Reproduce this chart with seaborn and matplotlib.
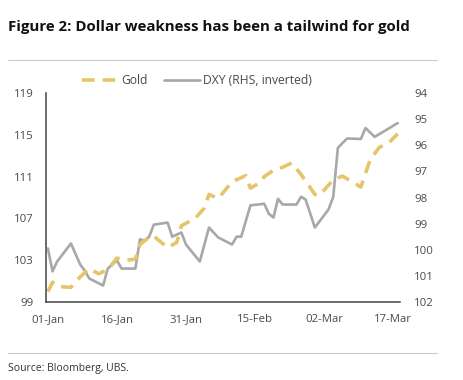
import matplotlib
matplotlib.use("Agg")
import matplotlib.pyplot as plt
import matplotlib.dates as mdates
import seaborn as sns
import pandas as pd
import numpy as np

# ---- data ----
gold_dates = ["2025-01-01", "2025-01-02", "2025-01-03", "2025-01-06", "2025-01-08",
              "2025-01-10", "2025-01-12", "2025-01-14", "2025-01-16", "2025-01-18",
              "2025-01-20", "2025-01-21", "2025-01-23", "2025-01-24", "2025-01-27",
              "2025-01-29", "2025-01-30", "2025-02-02", "2025-02-04", "2025-02-05",
              "2025-02-07", "2025-02-10", "2025-02-13", "2025-02-14", "2025-02-16",
              "2025-02-17", "2025-02-19", "2025-02-21", "2025-02-23", "2025-02-25",
              "2025-02-28", "2025-03-01", "2025-03-04", "2025-03-06", "2025-03-10",
              "2025-03-12", "2025-03-14", "2025-03-16", "2025-03-18"]
gold_values = [100.0, 100.9, 100.5, 100.4, 101.4,
               102.2, 101.7, 102.1, 103.2, 103.0,
               103.1, 104.5, 105.2, 105.3, 104.2,
               104.7, 106.3, 107.0, 108.0, 109.3,
               108.9, 110.5, 111.1, 109.9, 110.4,
               111.0, 111.6, 111.9, 112.3, 111.2,
               109.3, 109.2, 110.7, 111.05, 110.0,
               112.6, 113.8, 114.2, 115.1]

dxy_dates = ["2025-01-01", "2025-01-02", "2025-01-03", "2025-01-06", "2025-01-08",
             "2025-01-09", "2025-01-10", "2025-01-13", "2025-01-14", "2025-01-16",
             "2025-01-17", "2025-01-20", "2025-01-21", "2025-01-22", "2025-01-23",
             "2025-01-24", "2025-01-27", "2025-01-28", "2025-01-30", "2025-01-31",
             "2025-02-03", "2025-02-05", "2025-02-07", "2025-02-10", "2025-02-11",
             "2025-02-12", "2025-02-14", "2025-02-17", "2025-02-18", "2025-02-19",
             "2025-02-20", "2025-02-21", "2025-02-24", "2025-02-25", "2025-02-26",
             "2025-02-28", "2025-03-03", "2025-03-04", "2025-03-05", "2025-03-07",
             "2025-03-10", "2025-03-11", "2025-03-13", "2025-03-18"]
dxy_values = [99.95, 100.83, 100.45, 99.76, 100.56,
              100.8, 101.1, 101.37, 100.72, 100.41,
              100.72, 100.72, 99.6, 99.65, 99.5,
              99.04, 98.96, 99.5, 99.34, 99.8,
              100.45, 99.15, 99.53, 99.8, 99.5,
              99.5, 98.3, 98.24, 98.62, 98.77,
              98.05, 98.27, 98.27, 97.97, 98.08,
              99.15, 98.45, 97.97, 96.1, 95.74,
              95.76, 95.34, 95.68, 95.15]

left_ticks = [99, 103, 107, 111, 115, 119]
right_ticks = [94, 95, 96, 97, 98, 99, 100, 101, 102]
x_ticks = ["2025-01-01", "2025-01-16", "2025-01-31", "2025-02-15", "2025-03-02", "2025-03-17"]

title = "Figure 2: Dollar weakness has been a tailwind for gold"
source = "Source: Bloomberg, UBS."

gold_df = pd.DataFrame({"date": pd.to_datetime(gold_dates), "value": gold_values})
dxy_df = pd.DataFrame({"date": pd.to_datetime(dxy_dates), "value": dxy_values})

# ---- styling ----
sns.set_theme(style="white")
plt.rcParams["font.family"] = ["Open Sans", "DejaVu Sans"]

GOLD = "#E6C56A"
GREY = "#A8A8A8"
TXT = "#4A4A4A"

fig = plt.figure(figsize=(4.63, 3.80), dpi=100)
ax = fig.add_axes([46 / 463, 1 - 302 / 380, (400 - 46) / 463, (302 - 93) / 380])
ax2 = ax.twinx()

sns.lineplot(data=gold_df, x="date", y="value", ax=ax, color=GOLD, linewidth=2.6,
             dashes=False, label="Gold", legend=False)
ax.lines[0].set_dashes([3.5, 2.2])
sns.lineplot(data=dxy_df, x="date", y="value", ax=ax2, color=GREY, linewidth=1.9,
             label="DXY (RHS, inverted)", legend=False)

ax.set_ylim(99, 119)
ax2.set_ylim(102, 94)
ax.set_yticks(left_ticks)
ax2.set_yticks(right_ticks)
x0 = pd.Timestamp("2025-01-01") - pd.Timedelta(hours=10)
x1 = pd.Timestamp("2025-03-18") + pd.Timedelta(hours=12)
ax.set_xlim(x0, x1)
ax.set_xticks(pd.to_datetime(x_ticks))
ax.xaxis.set_major_formatter(mdates.DateFormatter("%d-%b"))

for a in (ax, ax2):
    a.set_xlabel("")
    a.set_ylabel("")
    a.grid(False)
    for s in a.spines.values():
        s.set_visible(False)
    a.tick_params(length=0, labelsize=8.2, colors=TXT)
ax.spines["left"].set_visible(True)
ax.spines["bottom"].set_visible(True)
ax.spines["left"].set_color("#444444")
ax.spines["bottom"].set_color("#444444")
ax.spines["left"].set_linewidth(1.1)
ax.spines["bottom"].set_linewidth(1.1)
ax.tick_params(axis="y", pad=9)
ax.tick_params(axis="x", pad=9)
ax2.tick_params(axis="y", pad=10)
ax.set_zorder(ax2.get_zorder() + 1)
ax.patch.set_visible(False)

# legend
h1 = ax.lines[0]
h2 = ax2.lines[0]
fig.legend([h1, h2], ["Gold", "DXY (RHS, inverted)"], loc="center",
           bbox_to_anchor=(197 / 463, 1 - 81 / 380), ncol=2, frameon=False,
           fontsize=8.7, handlelength=3.0, handletextpad=0.2, columnspacing=1.4,
           labelcolor=TXT)

# title, rules, source
fig.text(8 / 463, 1 - 27 / 380, title, fontsize=10.8, fontweight="bold",
         color="#111111", va="center", ha="left")
fig.add_artist(plt.Line2D([8 / 463, 437 / 463], [1 - 60 / 380] * 2, color="#CCCCCC", lw=0.8))
fig.add_artist(plt.Line2D([8 / 463, 437 / 463], [1 - 353 / 380] * 2, color="#CCCCCC", lw=0.8))
fig.text(8 / 463, 1 - 368 / 380, source, fontsize=7.5, color="#333333", va="center", ha="left")

fig.savefig("out.png", dpi=100)
